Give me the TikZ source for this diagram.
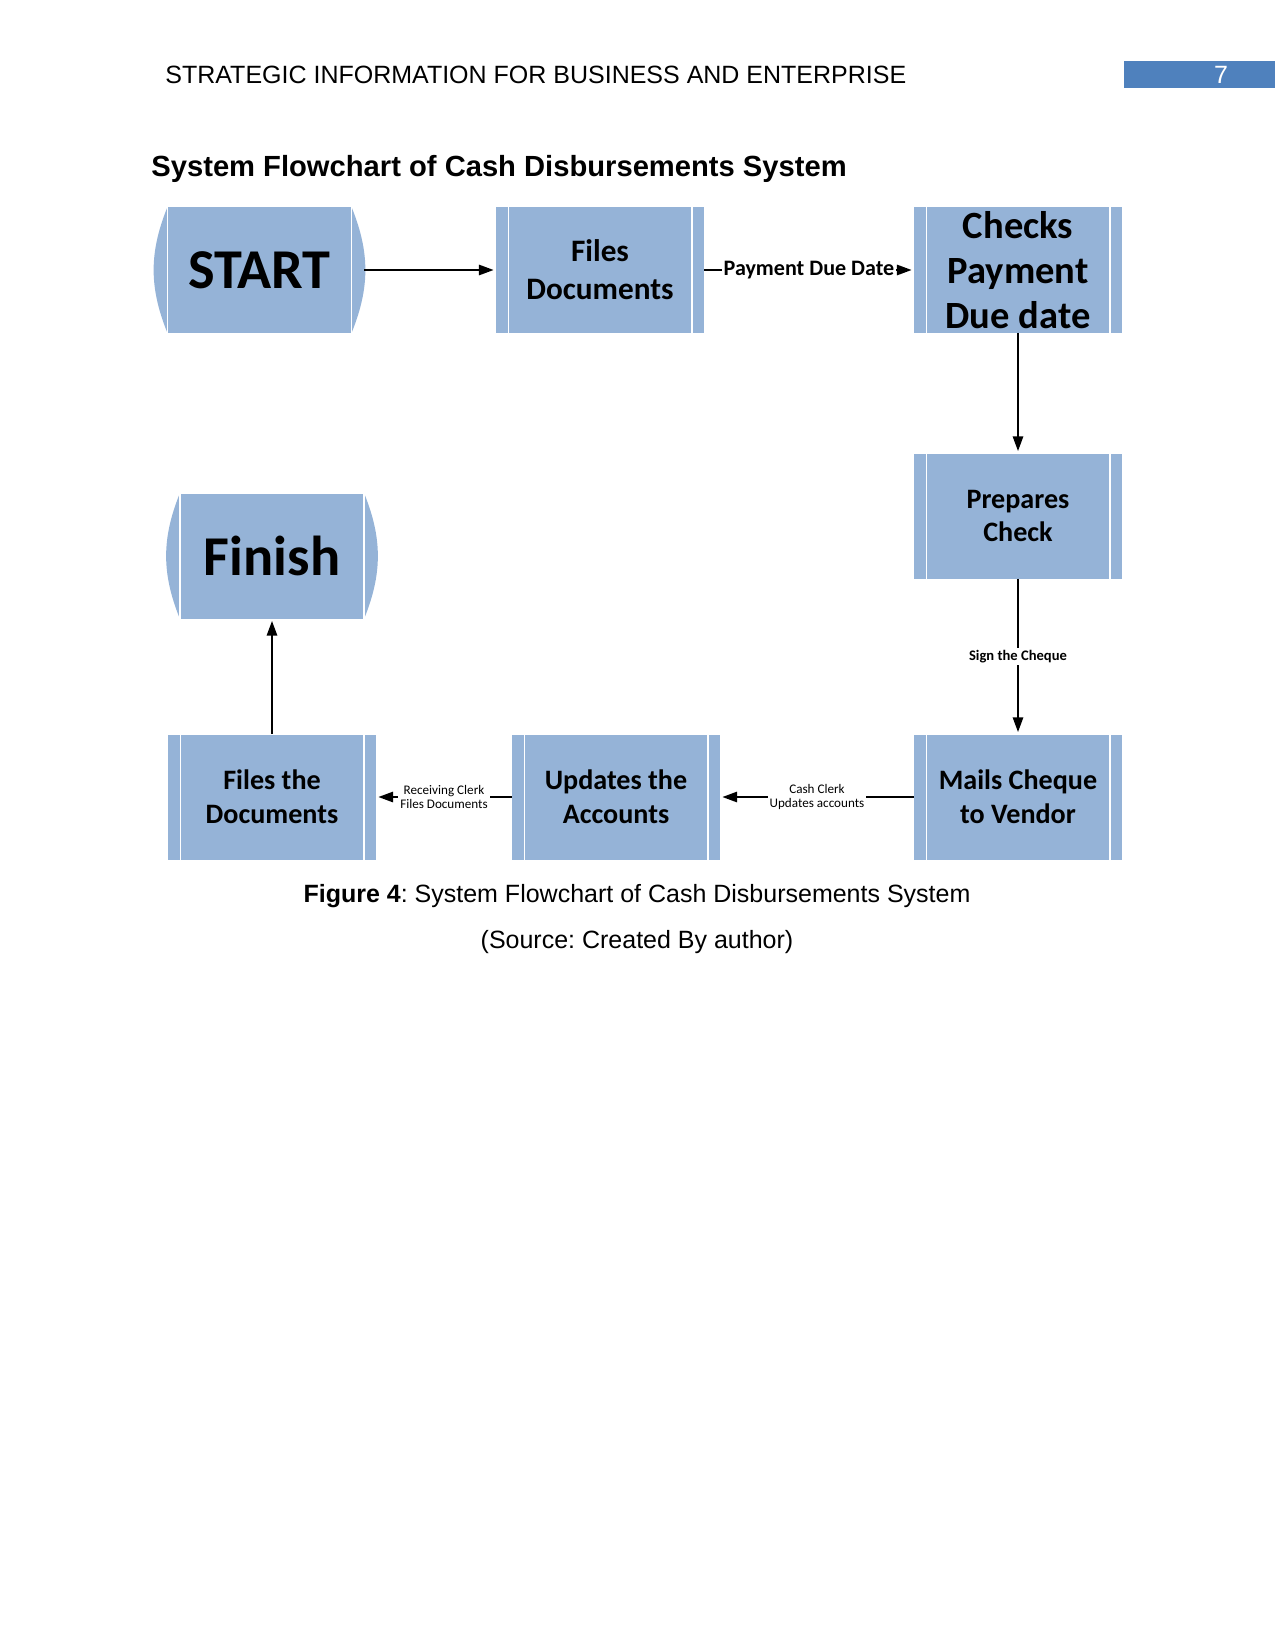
\documentclass[tikz,border=0pt]{standalone}
\usepackage{fontspec}
\setmainfont{Liberation Sans}
\newfontfamily\calibri{Carlito}
\usetikzlibrary{arrows.meta}
\definecolor{bloccoblu}{RGB}{149,179,215}
\definecolor{numeroblu}{RGB}{79,129,189}
\frenchspacing

\begin{document}
\begin{tikzpicture}[x=0.48pt, y=-0.48pt,
  blocco/.style={rectangle, fill=bloccoblu, minimum width=99.8pt, minimum height=60pt,
    inner sep=0pt, align=center, font=\calibri\bfseries\fontsize{13.5}{16.2}\selectfont,
    path picture={\draw[white, line width=0.6pt]
      ([xshift=5.8pt]path picture bounding box.north west) -- ([xshift=5.8pt]path picture bounding box.south west)
      ([xshift=-5.8pt]path picture bounding box.north east) -- ([xshift=-5.8pt]path picture bounding box.south east);}},
  terminale/.style={rectangle, fill=bloccoblu, minimum width=88pt, minimum height=60pt,
    inner sep=0pt, font=\calibri\bfseries\fontsize{27}{32}\selectfont},
  freccia/.style={-{Triangle[length=7pt, width=5pt]}, line width=0.7pt, shorten >=1pt},
  etichetta/.style={fill=white, inner sep=1pt, align=center}
]
  \useasboundingbox (0,0) rectangle (1275,1651);

  % intestazione
  \node[anchor=base west, inner sep=0pt, font=\fontsize{12}{14}\selectfont] (intest) at (165,84)
    {STRATEGIC INFORMATION FOR BUSINESS AND ENTERPRISE};
  \fill[numeroblu] (1124,61) rectangle (1275,88);
  \node[anchor=base, inner sep=0pt, text=white, font=\fontsize{12}{14}\selectfont] (pagina) at (1221,84) {7};

  % titolo
  \node[anchor=base west, inner sep=0pt, font=\bfseries\fontsize{14}{17}\selectfont] (titolo) at (151,177)
    {System Flowchart of Cash Disbursements System};

  % blocchi
  \node[terminale] (start) at (259.5,270) {START};
  \node[blocco, font=\calibri\bfseries\fontsize{15}{18.2}\selectfont] (files) at (600,270) {Files\\Documents};
  \node[blocco, font=\calibri\bfseries\fontsize{18.5}{21.5}\selectfont] (checks) at (1018,270) {Checks\\Payment\\Due date};
  \node[blocco] (prepara) at (1018,516) {Prepares\\Check};
  \node[terminale] (finish) at (272,556) {Finish};
  \node[blocco] (archivia) at (272,797) {Files the\\Documents};
  \node[blocco] (aggiorna) at (616,797) {Updates the\\Accounts};
  \node[blocco] (spedisce) at (1018,797) {Mails Cheque\\to Vendor};

  % lati curvi di START e Finish
  \foreach \n in {start,finish}{
    \fill[bloccoblu] (\n.north west) to[bend right=22] (\n.south west) -- cycle;
    \fill[bloccoblu] (\n.south east) to[bend right=22] (\n.north east) -- cycle;
    \draw[white, line width=0.6pt] (\n.north west) -- (\n.south west) (\n.north east) -- (\n.south east);
  }

  % frecce
  \draw[freccia] ([xshift=6pt]start.east) -- (files.west);
  \draw[freccia] (files.east) -- node[etichetta, font=\calibri\bfseries\fontsize{10.6}{12}\selectfont] (lpag) {Payment Due Date} (checks.west);
  \draw[freccia] (checks.south) -- (prepara.north);
  \draw[freccia] (prepara.south) -- node[etichetta, font=\calibri\bfseries\fontsize{7}{8.4}\selectfont] (lfirma) {Sign the Cheque} (spedisce.north);
  \draw[freccia] (spedisce.west) -- node[etichetta, font=\calibri\fontsize{6.3}{7}\selectfont] (lcassa) {Cash Clerk\\Updates accounts} (aggiorna.east);
  \draw[freccia] (aggiorna.west) -- node[etichetta, font=\calibri\fontsize{6.3}{7}\selectfont] (lricev) {Receiving Clerk\\Files Documents} (archivia.east);
  \draw[freccia] (archivia.north) -- (finish.south);

  % didascalia
  \node[anchor=base, inner sep=0pt, font=\fontsize{12}{14}\selectfont] (didascalia) at (637,902)
    {\textbf{Figure 4}: System Flowchart of Cash Disbursements System};
  \node[anchor=base, inner sep=0pt, font=\fontsize{12}{14}\selectfont] (fonte) at (637,948)
    {(Source: Created By author)};
\end{tikzpicture}
\end{document}
